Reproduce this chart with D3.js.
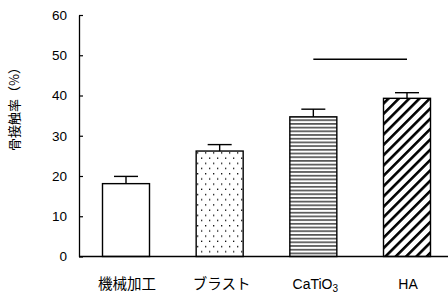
<!DOCTYPE html>
<html><head><meta charset="utf-8">
<script src="https://cdn.jsdelivr.net/npm/d3@7"></script>
<style>
html,body{margin:0;padding:0;background:#fff;}
svg{display:block;}
</style></head>
<body>
<script>
const categories = ["機械加工", "ブラスト", "CaTiO3", "HA"];
const values = [18.1, 26.2, 34.7, 39.3];
const errors = [1.8, 1.6, 1.9, 1.4];
const yTicks = [0, 10, 20, 30, 40, 50, 60];
const sigPair = ["CaTiO3", "HA"];
const sigValue = 49;
const yTitle = "骨接触率（%）";

const W = 448, H = 295;
const svg = d3.select("body").append("svg").attr("width", W).attr("height", H);
const defs = svg.append("defs");

// patterns
const pDots = defs.append("pattern").attr("id","dots").attr("patternUnits","userSpaceOnUse")
  .attr("width",8).attr("height",10.4).attr("x",0).attr("y",0);
pDots.append("rect").attr("width",8).attr("height",10.4).attr("fill","#fff");
pDots.append("rect").attr("x",1).attr("y",1.5).attr("width",1.3).attr("height",1.3).attr("fill","#000");
pDots.append("rect").attr("x",5).attr("y",6.7).attr("width",1.3).attr("height",1.3).attr("fill","#000");

const pH = defs.append("pattern").attr("id","hlines").attr("patternUnits","userSpaceOnUse")
  .attr("width",10).attr("height",3.7);
pH.append("rect").attr("width",10).attr("height",3.7).attr("fill","#fff");
pH.append("rect").attr("x",0).attr("y",1.2).attr("width",10).attr("height",1.2).attr("fill","#111");

const pD = defs.append("pattern").attr("id","diag").attr("patternUnits","userSpaceOnUse")
  .attr("width",7.3).attr("height",7.3).attr("patternTransform","rotate(45)");
pD.append("rect").attr("width",7.3).attr("height",7.3).attr("fill","#fff");
pD.append("rect").attr("x",0).attr("y",0).attr("width",2.6).attr("height",7.3).attr("fill","#000");

const fills = ["#fff", "url(#dots)", "url(#hlines)", "url(#diag)"];

const x = d3.scalePoint().domain(categories).range([126, 407]);
const y = d3.scaleLinear().domain([0, 60]).range([256.5, 15]);
const barW = 47;

// y axis
const yAxis = d3.axisLeft(y).tickValues(yTicks).tickSize(-4).tickSizeOuter(0).tickPadding(12);
const gy = svg.append("g").attr("transform","translate(79,0)").call(yAxis);
gy.select(".domain").attr("stroke","#000").attr("stroke-width",1.3);
gy.selectAll(".tick line").attr("stroke","#000").attr("stroke-width",1.2);
gy.selectAll(".tick text").attr("font-family","'Liberation Sans', Arial, sans-serif")
  .attr("font-size",13.5).attr("fill","#000");

// bars
svg.selectAll("rect.bar").data(categories).enter().append("rect")
  .attr("class","bar")
  .attr("x", d => x(d) - barW/2)
  .attr("y", (d,i) => y(values[i]))
  .attr("width", barW)
  .attr("height", (d,i) => y(0) - y(values[i]))
  .attr("fill", (d,i) => fills[i])
  .attr("stroke","#000").attr("stroke-width",1.4);

// error bars
const eg = svg.append("g").attr("stroke","#000").attr("stroke-width",1.4);
categories.forEach((c,i) => {
  eg.append("line").attr("x1",x(c)).attr("x2",x(c)).attr("y1",y(values[i])).attr("y2",y(values[i]+errors[i]));
  eg.append("line").attr("x1",x(c)-12).attr("x2",x(c)+12).attr("y1",y(values[i]+errors[i])).attr("y2",y(values[i]+errors[i]));
});

// x baseline
svg.append("line").attr("x1",79).attr("x2",448).attr("y1",y(0)).attr("y2",y(0))
  .attr("stroke","#000").attr("stroke-width",1.4);

// significance line
svg.append("line").attr("x1",x(sigPair[0])).attr("x2",x(sigPair[1]))
  .attr("y1",y(sigValue)).attr("y2",y(sigValue)).attr("stroke","#000").attr("stroke-width",1.5);

// category labels
const labDx = [1, 2, 2, 1];
categories.forEach((c,i) => {
  const t = svg.append("text").attr("x", x(c) + labDx[i]).attr("y", 289)
    .attr("text-anchor","middle").attr("fill","#000");
  if (c === "CaTiO3") {
    t.attr("font-family","'Liberation Sans', Arial, sans-serif").attr("font-size",14);
    t.append("tspan").text("CaTiO");
    t.append("tspan").attr("font-size",10).attr("dy",3).text("3");
  } else if (c === "HA") {
    t.attr("font-family","'Liberation Sans', Arial, sans-serif").attr("font-size",14).text(c);
  } else {
    t.attr("font-family","'Noto Sans CJK JP', sans-serif").attr("font-size",14.5).text(c);
  }
});

// y title
svg.append("text").attr("transform","translate(19,106) rotate(-90)")
  .attr("text-anchor","middle").attr("font-family","'Noto Sans CJK JP', sans-serif")
  .attr("font-size",13).attr("fill","#000").text(yTitle);
</script>
</body></html>
